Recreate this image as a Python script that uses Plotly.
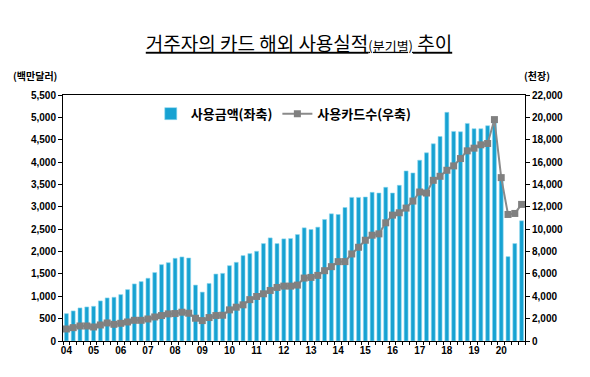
import plotly.graph_objects as go

years = ["04", "05", "06", "07", "08", "09", "10", "11", "12", "13", "14", "15", "16", "17", "18", "19", "20"]
quarters = [f"20{y}Q{q}" for y in years for q in range(1, 5)]

amount = [
    612, 672, 739, 761,
    776, 896, 963, 978,
    1037, 1149, 1276, 1328,
    1403, 1530, 1707, 1751,
    1849, 1879, 1856, 1250,
    1093, 1287, 1497, 1512,
    1684, 1759, 1909, 1954,
    2006, 2178, 2305, 2178,
    2283, 2290, 2380, 2530,
    2493, 2545, 2717, 2844,
    2829, 2985, 3211, 3211,
    3219, 3323, 3308, 3436,
    3308, 3481, 3802, 3757,
    4042, 4207, 4409, 4573,
    5112, 4686, 4678, 4865,
    4746, 4746, 4813, 4950,
    3650, 1886, 2178, 2687,
]

cards = [
    1075, 1194, 1343, 1343,
    1254, 1433, 1612, 1493,
    1582, 1701, 1851, 1851,
    1970, 2150, 2275, 2425,
    2455, 2575, 2485, 2036,
    1826, 2096, 2275, 2305,
    2784, 3024, 3234, 3700,
    3982, 4222, 4521, 4790,
    4910, 4910, 5000, 5629,
    5689, 5868, 6287, 6647,
    7096, 7100, 7784, 8383,
    9012, 9461, 9581, 10569,
    11257, 11467, 11886, 12515,
    13323, 13234, 14371, 14730,
    15269, 15659, 16317, 17006,
    17246, 17545, 17665, 19800,
    14611, 11317, 11407, 12216,
]

x = list(range(len(quarters)))
tick_pos = [i for i, q in enumerate(quarters) if q.endswith("Q1")]
tick_text = years

KFONT = "Noto Sans CJK KR"
NFONT = "Liberation Sans"

fig = go.Figure()
fig.add_trace(go.Bar(
    x=x, y=amount, name="사용금액(좌축)",
    marker=dict(color="#17A2D2", line=dict(color="#8DD6EE", width=0.6)),
    width=0.58, yaxis="y",
    hovertext=quarters,
))
fig.add_trace(go.Scatter(
    x=x, y=cards, name="사용카드수(우축)", mode="lines+markers",
    line=dict(color="#8A8A8A", width=2),
    marker=dict(symbol="square", size=7, color="#808080"),
    yaxis="y2", hovertext=quarters,
))

fig.update_layout(
    width=582, height=369,
    margin=dict(l=55, r=65, t=87, b=36),
    paper_bgcolor="white", plot_bgcolor="white",
    showlegend=True,
    legend=dict(orientation="h", x=0.19, y=0.985, xanchor="left", yanchor="top",
                font=dict(family=KFONT, size=13, color="black", weight="bold"),
                bgcolor="rgba(0,0,0,0)", itemwidth=30, tracegroupgap=0),
    title=dict(text="<u>거주자의 카드 해외 사용실적<span style='font-size:13px'>(분기별)</span> 추이</u>",
               x=0.5, xanchor="center", y=0.902, yanchor="middle",
               font=dict(family=KFONT, size=19, color="black")),
    xaxis=dict(
        range=[-0.5, len(x) - 0.5], tickmode="array", tickvals=tick_pos, ticktext=tick_text,
        ticks="", showline=True, linecolor="black", linewidth=1, mirror=True,
        showgrid=False, zeroline=False,
        tickfont=dict(family=NFONT, size=10, color="black", weight="bold"),
        minor=dict(ticks="outside", tick0=-0.5, dtick=1, ticklen=3, tickcolor="black", showgrid=False),
    ),
    yaxis=dict(
        range=[0, 5500], dtick=500, tickformat=",", ticks="outside", ticklen=4,
        tickcolor="black", showline=True, linecolor="black", linewidth=1,
        showgrid=False, zeroline=False,
        tickfont=dict(family=NFONT, size=10, color="black", weight="bold"),
    ),
    yaxis2=dict(
        range=[0, 22000], dtick=2000, tickformat=",", ticks="outside", ticklen=4,
        tickcolor="black", showline=True, linecolor="black", linewidth=1,
        overlaying="y", side="right", showgrid=False, zeroline=False,
        tickfont=dict(family=NFONT, size=10, color="black", weight="bold"),
    ),
    annotations=[
        dict(text="(백만달러)", xref="paper", yref="paper", x=-0.061, y=1.081,
             xanchor="center", yanchor="middle", showarrow=False,
             font=dict(family=KFONT, size=10, color="black", weight="bold")),
        dict(text="(천장)", xref="paper", yref="paper", x=1.026, y=1.081,
             xanchor="center", yanchor="middle", showarrow=False,
             font=dict(family=KFONT, size=10, color="black", weight="bold")),
    ],
)

fig.write_html("out.html")
